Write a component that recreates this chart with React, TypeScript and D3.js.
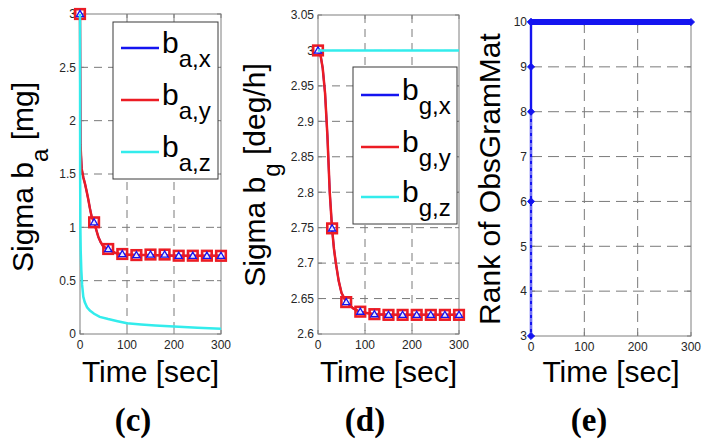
import React from 'react';
import * as d3 from 'd3';

// ---------- data ----------
const markerTimes = [0, 30, 60, 90, 120, 150, 180, 210, 240, 270, 300];
const xTicks = [0, 100, 200, 300];
const xTickLabels = ['0', '100', '200', '300'];

// (c) accelerometer bias sigma [mg]
const accTimes = [0, 1, 3.5, 7, 10.5, 14, 17.7, 21, 24.8, 30, 35, 39, 44, 49.6, 60, 75, 90, 120, 150, 180, 210, 240, 270, 300];
const accSigmaX = [3.0, 1.78, 1.55, 1.47, 1.41, 1.34, 1.26, 1.18, 1.10, 1.05, 0.97, 0.91, 0.86, 0.82, 0.795, 0.76, 0.745, 0.74, 0.74, 0.737, 0.733, 0.733, 0.733, 0.733];
const accSigmaY = [3.0, 1.78, 1.55, 1.47, 1.41, 1.34, 1.26, 1.18, 1.10, 1.05, 0.97, 0.91, 0.86, 0.82, 0.795, 0.76, 0.745, 0.74, 0.74, 0.737, 0.733, 0.733, 0.733, 0.733];
const accMarkX = [3.0, 1.047, 0.797, 0.75, 0.74, 0.745, 0.745, 0.734, 0.734, 0.734, 0.733];
const accMarkY = [3.0, 1.047, 0.797, 0.75, 0.74, 0.745, 0.745, 0.734, 0.734, 0.734, 0.733];
const accZTimes = [0, 0.3, 0.8, 1.5, 2.8, 4.5, 7, 10, 15, 21, 30, 42, 60, 80, 100, 130, 160, 200, 250, 300];
const accSigmaZ = [3.0, 1.5, 1.0, 0.78, 0.6, 0.46, 0.35, 0.3, 0.25, 0.22, 0.19, 0.16, 0.14, 0.12, 0.10, 0.09, 0.08, 0.07, 0.058, 0.05];
const accTicks = [0, 0.5, 1, 1.5, 2, 2.5, 3];
const accTickLabels = ['0', '0.5', '1', '1.5', '2', '2.5', '3'];

// (d) gyro bias sigma [deg/h]
const gyroTimes = [0, 5, 10, 15, 20, 25, 30, 34, 38, 44, 50, 60, 75, 90, 120, 150, 180, 210, 240, 270, 300];
const gyroSigmaX = [3.0, 2.995, 2.975, 2.94, 2.88, 2.8, 2.748, 2.72, 2.7, 2.675, 2.658, 2.645, 2.636, 2.631, 2.628, 2.627, 2.627, 2.627, 2.627, 2.627, 2.627];
const gyroSigmaY = [3.0, 2.995, 2.975, 2.94, 2.88, 2.8, 2.748, 2.72, 2.7, 2.675, 2.658, 2.645, 2.636, 2.631, 2.628, 2.627, 2.627, 2.627, 2.627, 2.627, 2.627];
const gyroMarkX = [3.0, 2.749, 2.645, 2.6315, 2.628, 2.627, 2.627, 2.627, 2.627, 2.627, 2.627];
const gyroMarkY = [3.0, 2.749, 2.645, 2.6315, 2.628, 2.627, 2.627, 2.627, 2.627, 2.627, 2.627];
const gyroZTimes = [0, 300];
const gyroSigmaZ = [3.0, 3.0];
const gyroTicks = [2.6, 2.65, 2.7, 2.75, 2.8, 2.85, 2.9, 2.95, 3.0, 3.05];
const gyroTickLabels = ['2.6', '2.65', '2.7', '2.75', '2.8', '2.85', '2.9', '2.95', '3', '3.05'];

// (e) rank of observability Gramian
const rankStepTimes = [0, 0, 0, 0, 0];
const rankStepValues = [3, 6, 8, 9, 10];
const rankFinalTimes = [0, 300];
const rankFinalValues = [10, 10];
const rankTicks = [3, 4, 5, 6, 7, 8, 9, 10];
const rankTickLabels = ['3', '4', '5', '6', '7', '8', '9', '10'];

// ---------- style ----------
const SANS = '"Liberation Sans", Arial, Helvetica, sans-serif';
const SERIF = '"Liberation Serif", "Times New Roman", Times, serif';
const BLUE = '#1414f0';
const RED = '#ec1c24';
const CYAN = '#33ecec';
const BOX = '#7f7f7f';
const GRID = '#7a7a7a';
const TXT = '#262626';

type Layout = { left: number; right: number; top: number; bottom: number; domain: [number, number]; dash: string };

const layoutC: Layout = { left: 80, right: 221, top: 14, bottom: 334, domain: [0, 3], dash: '8,6' };
const layoutD: Layout = { left: 318, right: 459, top: 15, bottom: 334, domain: [2.6, 3.05], dash: '8,6' };
const layoutE: Layout = { left: 531, right: 691, top: 22, bottom: 336, domain: [3, 10], dash: '11,6' };

function scales(l: Layout) {
  const x = d3.scaleLinear().domain([0, 300]).range([l.left, l.right]);
  const y = d3.scaleLinear().domain(l.domain).range([l.bottom, l.top]);
  return { x, y };
}

function Axes({ l, yTicks, yLabels }: { l: Layout; yTicks: number[]; yLabels: string[] }) {
  const { x, y } = scales(l);
  const [d0, d1] = l.domain;
  const eps = 1e-9;
  return (
    <g>
      {xTicks.filter((t) => t > 0 && t < 300).map((t) => (
        <line key={'gx' + t} x1={x(t)} x2={x(t)} y1={l.top} y2={l.bottom} stroke={GRID} strokeDasharray={l.dash} strokeWidth={1} />
      ))}
      {yTicks.filter((v) => v > d0 + eps && v < d1 - eps).map((v) => (
        <line key={'gy' + v} x1={l.left} x2={l.right} y1={y(v)} y2={y(v)} stroke={GRID} strokeDasharray={l.dash} strokeWidth={1} />
      ))}
      <rect x={l.left} y={l.top} width={l.right - l.left} height={l.bottom - l.top} fill="none" stroke={BOX} strokeWidth={1} />
      {xTicks.map((t) => (
        <g key={'tx' + t}>
          <line x1={x(t)} x2={x(t)} y1={l.bottom} y2={l.bottom - 4} stroke={BOX} />
          <line x1={x(t)} x2={x(t)} y1={l.top} y2={l.top + 4} stroke={BOX} />
        </g>
      ))}
      {yTicks.map((v) => (
        <g key={'ty' + v}>
          <line x1={l.left} x2={l.left + 4} y1={y(v)} y2={y(v)} stroke={BOX} />
          <line x1={l.right} x2={l.right - 4} y1={y(v)} y2={y(v)} stroke={BOX} />
        </g>
      ))}
      {xTicks.map((t, i) => (
        <text key={'lx' + t} x={x(t)} y={l.bottom + 15} textAnchor="middle" fontSize={12} fontFamily={SANS} fill={TXT}>
          {xTickLabels[i]}
        </text>
      ))}
      {yTicks.map((v, i) => (
        <text key={'ly' + v} x={l.left - 4} y={y(v) + 4.3} textAnchor="end" fontSize={12} fontFamily={SANS} fill={TXT}>
          {yLabels[i]}
        </text>
      ))}
      <text x={(l.left + l.right) / 2} y={382} textAnchor="middle" fontSize={30} fontFamily={SANS} fill="#000">
        Time [sec]
      </text>
    </g>
  );
}

function linePath(xs: number[], ys: number[], l: Layout) {
  const { x, y } = scales(l);
  const pts: [number, number][] = xs.map((t, i) => [x(t), y(ys[i])]);
  return d3.line()(pts) || '';
}

function Triangles({ xs, ys, l }: { xs: number[]; ys: number[]; l: Layout }) {
  const { x, y } = scales(l);
  return (
    <g>
      {xs.map((t, i) => {
        const cx = x(t), cy = y(ys[i]);
        return <path key={i} d={`M${cx},${cy - 3.6}L${cx + 3.6},${cy + 2.6}L${cx - 3.6},${cy + 2.6}Z`} fill="#e8e8ff" stroke={BLUE} strokeWidth={1.3} />;
      })}
    </g>
  );
}

function Squares({ xs, ys, l }: { xs: number[]; ys: number[]; l: Layout }) {
  const { x, y } = scales(l);
  return (
    <g>
      {xs.map((t, i) => (
        <rect key={i} x={x(t) - 4.8} y={y(ys[i]) - 4.8} width={9.6} height={9.6} fill="none" stroke={RED} strokeWidth={2.6} />
      ))}
    </g>
  );
}

function Diamonds({ xs, ys, l }: { xs: number[]; ys: number[]; l: Layout }) {
  const { x, y } = scales(l);
  return (
    <g>
      {xs.map((t, i) => {
        const cx = x(t), cy = y(ys[i]);
        return <path key={i} d={`M${cx},${cy - 3.6}L${cx + 3.6},${cy}L${cx},${cy + 3.6}L${cx - 3.6},${cy}Z`} fill={BLUE} stroke={BLUE} strokeWidth={0.8} />;
      })}
    </g>
  );
}

function Legend({ x0, y0, x1, y1, rows, letter }: { x0: number; y0: number; x1: number; y1: number; rows: { color: string; sub: string; y: number }[]; letter: string }) {
  return (
    <g>
      <rect x={x0} y={y0} width={x1 - x0} height={y1 - y0} fill="#fff" stroke="#3a3a3a" strokeWidth={1} />
      {rows.map((r) => (
        <g key={r.sub}>
          <line x1={x0 + 8} x2={x0 + 46} y1={r.y} y2={r.y} stroke={r.color} strokeWidth={2.4} />
          <text x={x0 + 49} y={r.y + 5} fontSize={30} fontFamily={SANS} fill="#000">
            {letter}
            <tspan fontSize={24} dy={14}>{r.sub}</tspan>
          </text>
        </g>
      ))}
    </g>
  );
}

function YLabel({ x, y, main, sub, rest }: { x: number; y: number; main: string; sub?: string; rest?: string }) {
  return (
    <text transform={`translate(${x},${y}) rotate(-90)`} textAnchor="middle" fontSize={30} fontFamily={SANS} fill="#000">
      {main}
      {sub ? <tspan fontSize={24} dy={15}>{sub}</tspan> : null}
      {rest ? <tspan dy={sub ? -15 : 0}>{rest}</tspan> : null}
    </text>
  );
}

export default function App() {
  const eS = scales(layoutE);
  return (
    <svg width={710} height={445} style={{ position: 'absolute', left: 0, top: 0, background: '#fff' }}>
      <rect x={0} y={0} width={710} height={445} fill="#fff" />

      {/* (c) */}
      <Axes l={layoutC} yTicks={accTicks} yLabels={accTickLabels} />
      <path d={linePath(accTimes, accSigmaX, layoutC)} fill="none" stroke={BLUE} strokeWidth={2} />
      <path d={linePath(accTimes, accSigmaY, layoutC)} fill="none" stroke={RED} strokeWidth={2.5} />
      <Squares xs={markerTimes} ys={accMarkY} l={layoutC} />
      <Triangles xs={markerTimes} ys={accMarkX} l={layoutC} />
      <path d={linePath(accZTimes, accSigmaZ, layoutC)} fill="none" stroke={CYAN} strokeWidth={2.5} />
      <Legend x0={113} y0={22} x1={218} y1={179} letter="b" rows={[
        { color: BLUE, sub: 'a,x', y: 48 },
        { color: RED, sub: 'a,y', y: 100 },
        { color: CYAN, sub: 'a,z', y: 152 },
      ]} />
      <YLabel x={33} y={177} main="Sigma b" sub="a" rest=" [mg]" />
      <text x={133} y={431} textAnchor="middle" fontSize={33} fontWeight="bold" fontFamily={SERIF} fill="#000">(c)</text>

      {/* (d) */}
      <Axes l={layoutD} yTicks={gyroTicks} yLabels={gyroTickLabels} />
      <path d={linePath(gyroTimes, gyroSigmaX, layoutD)} fill="none" stroke={BLUE} strokeWidth={2} />
      <path d={linePath(gyroTimes, gyroSigmaY, layoutD)} fill="none" stroke={RED} strokeWidth={2.5} />
      <Squares xs={markerTimes} ys={gyroMarkY} l={layoutD} />
      <Triangles xs={markerTimes} ys={gyroMarkX} l={layoutD} />
      <path d={linePath(gyroZTimes, gyroSigmaZ, layoutD)} fill="none" stroke={CYAN} strokeWidth={2.5} />
      <Legend x0={353} y0={67} x1={457} y1={224} letter="b" rows={[
        { color: BLUE, sub: 'g,x', y: 95 },
        { color: RED, sub: 'g,y', y: 147 },
        { color: CYAN, sub: 'g,z', y: 197 },
      ]} />
      <YLabel x={265} y={175} main="Sigma b" sub="g" rest=" [deg/h]" />
      <text x={365} y={431} textAnchor="middle" fontSize={33} fontWeight="bold" fontFamily={SERIF} fill="#000">(d)</text>

      {/* (e) */}
      <Axes l={layoutE} yTicks={rankTicks} yLabels={rankTickLabels} />
      <path d={linePath(rankStepTimes, rankStepValues, layoutE)} fill="none" stroke={BLUE} strokeWidth={2.4} />
      <line x1={eS.x(0)} x2={eS.x(0)} y1={eS.y(3)} y2={eS.y(8)} stroke="#fff" strokeWidth={0.8} strokeDasharray="4,3" />
      <path d={linePath(rankFinalTimes, rankFinalValues, layoutE)} fill="none" stroke={BLUE} strokeWidth={6} />
      <Diamonds xs={rankStepTimes} ys={rankStepValues} l={layoutE} />
      <Diamonds xs={rankFinalTimes} ys={rankFinalValues} l={layoutE} />
      <YLabel x={500} y={179} main="Rank of ObsGramMat" />
      <text x={589} y={431} textAnchor="middle" fontSize={33} fontWeight="bold" fontFamily={SERIF} fill="#000">(e)</text>
    </svg>
  );
}
